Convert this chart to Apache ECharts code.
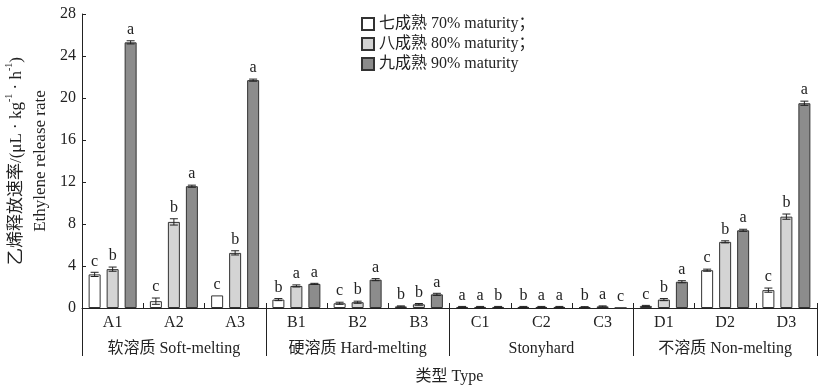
<!DOCTYPE html>
<html>
<head>
<meta charset="utf-8">
<script src="https://cdn.jsdelivr.net/npm/echarts@6/dist/echarts.min.js"></script>
<style>
  html, body { margin: 0; padding: 0; background: #ffffff; }
  #main { width: 827px; height: 390px; }
</style>
</head>
<body>
<div id="main"></div>
<script>
// categories / groups
var cats = ['A1', 'A2', 'A3', 'B1', 'B2', 'B3', 'C1', 'C2', 'C3', 'D1', 'D2', 'D3'];
var groups = ['软溶质 Soft-melting', '硬溶质 Hard-melting', 'Stonyhard', '不溶质 Non-melting'];
var yTicks = [0, 28, 4];

// ethylene release rate (μL·kg-1·h-1)
var m70 = [3.2, 0.65, 1.2, 0.8, 0.45, 0.15, 0.1, 0.1, 0.08, 0.2, 3.6, 1.7];
var m80 = [3.7, 8.2, 5.25, 2.1, 0.55, 0.35, 0.1, 0.1, 0.15, 0.8, 6.3, 8.7];
var m90 = [25.3, 11.6, 21.7, 2.3, 2.7, 1.3, 0.1, 0.1, 0.02, 2.5, 7.4, 19.5];

// standard errors
var e70 = [0.2, 0.3, 0, 0.1, 0.1, 0.05, 0.05, 0.05, 0.05, 0.05, 0.1, 0.2];
var e80 = [0.2, 0.3, 0.2, 0.1, 0.1, 0.08, 0.05, 0.05, 0.05, 0.1, 0.1, 0.25];
var e90 = [0.15, 0.1, 0.1, 0.05, 0.1, 0.1, 0.05, 0.05, 0, 0.1, 0.1, 0.2];

// significance letters
var s70 = ['c', 'c', 'c', 'b', 'c', 'b', 'a', 'b', 'b', 'c', 'c', 'c'];
var s80 = ['b', 'b', 'b', 'a', 'b', 'b', 'a', 'a', 'a', 'b', 'b', 'b'];
var s90 = ['a', 'a', 'a', 'a', 'a', 'a', 'b', 'a', 'c', 'a', 'a', 'a'];

var names = ['七成熟 70% maturity；', '八成熟 80% maturity；', '九成熟 90% maturity'];
var fills = ['#ffffff', '#d4d4d4', '#8c8c8c'];

var FONT = "'Liberation Serif', 'Noto Sans CJK SC', serif";
var chart = echarts.init(document.getElementById('main'));

function errSeries(vals, errs, letters, offset) {
  var data = vals.map(function (v, i) { return [i, v, errs[i]]; });
  return {
    type: 'custom',
    xAxisIndex: 0,
    yAxisIndex: 0,
    z: 5,
    silent: true,
    encode: { x: 0, y: 1 },
    data: data,
    renderItem: function (params, api) {
      var i = api.value(0);
      var v = api.value(1);
      var e = api.value(2);
      var x = api.coord([i, 0])[0] + offset;
      var hi = api.coord([i, v + e])[1];
      var lo = api.coord([i, v - e])[1];
      var st = { stroke: '#222', lineWidth: 1 };
      var kids = [];
      if (e > 0) {
        kids.push({ type: 'line', shape: { x1: x, y1: hi, x2: x, y2: lo }, style: st });
        kids.push({ type: 'line', shape: { x1: x - 4, y1: hi, x2: x + 4, y2: hi }, style: st });
        kids.push({ type: 'line', shape: { x1: x - 4, y1: lo, x2: x + 4, y2: lo }, style: st });
      }
      kids.push({
        type: 'text',
        style: {
          x: x, y: hi - 3,
          text: letters[params.dataIndex],
          align: 'center', verticalAlign: 'bottom',
          fill: '#222', font: '16px ' + FONT
        }
      });
      return { type: 'group', children: kids };
    }
  };
}

function barSeries(k, vals) {
  return {
    name: names[k],
    type: 'bar',
    xAxisIndex: 0,
    barWidth: 12,
    barGap: '50%',
    data: vals,
    itemStyle: { color: fills[k], borderColor: '#333', borderWidth: 1 }
  };
}

var option = {
  animation: false,
  backgroundColor: '#ffffff',
  textStyle: { fontFamily: FONT },
  grid: { left: 82, right: 10, top: 14, bottom: 82, containLabel: false, outerBoundsMode: 'none' },
  legend: {
    orient: 'vertical',
    left: 356,
    top: 11,
    itemWidth: 12,
    itemHeight: 12,
    itemGap: 4,
    icon: 'rect',
    textStyle: { fontFamily: FONT, fontSize: 16, color: '#222' },
    data: names
  },
  xAxis: [
    {
      type: 'category',
      data: cats,
      position: 'bottom',
      axisLine: { lineStyle: { color: '#222', width: 1 } },
      axisTick: { show: true, inside: true, length: 5, lineStyle: { color: '#222' } },
      axisLabel: { color: '#222', fontSize: 16, margin: 7, fontFamily: FONT }
    },
    {
      type: 'category',
      data: groups,
      position: 'bottom',
      name: '类型 Type',
      nameLocation: 'middle',
      nameGap: 61,
      nameTextStyle: { color: '#222', fontSize: 16, fontFamily: FONT },
      axisLine: { show: false },
      axisTick: { show: true, inside: false, length: 48, lineStyle: { color: '#222' } },
      axisLabel: { color: '#222', fontSize: 16, margin: 33, fontFamily: FONT }
    }
  ],
  yAxis: {
    type: 'value',
    min: yTicks[0],
    max: yTicks[1],
    interval: yTicks[2],
    name: '{a|乙烯释放速率/(μL · kg}{s|-1}{a| · h}{s|-1}{a|)}\n{a|Ethylene release rate}',
    nameLocation: 'middle',
    nameGap: 28,
    nameTextStyle: {
      color: '#222',
      rich: {
        a: { fontSize: 17, fontFamily: FONT, color: '#222', lineHeight: 24 },
        s: { fontSize: 10, fontFamily: FONT, color: '#222', lineHeight: 24, verticalAlign: 'top' }
      }
    },
    splitLine: { show: false },
    axisLine: { show: true, lineStyle: { color: '#222', width: 1 } },
    axisTick: { show: true, inside: true, length: 4, lineStyle: { color: '#222' } },
    axisLabel: { color: '#222', fontSize: 16, margin: 6, fontFamily: FONT }
  },
  series: [
    barSeries(0, m70),
    barSeries(1, m80),
    barSeries(2, m90),
    errSeries(m70, e70, s70, -18),
    errSeries(m80, e80, s80, 0),
    errSeries(m90, e90, s90, 18)
  ]
};

chart.setOption(option);
window.addEventListener('resize', function () {
  chart.resize();
});
</script>
</body>
</html>
